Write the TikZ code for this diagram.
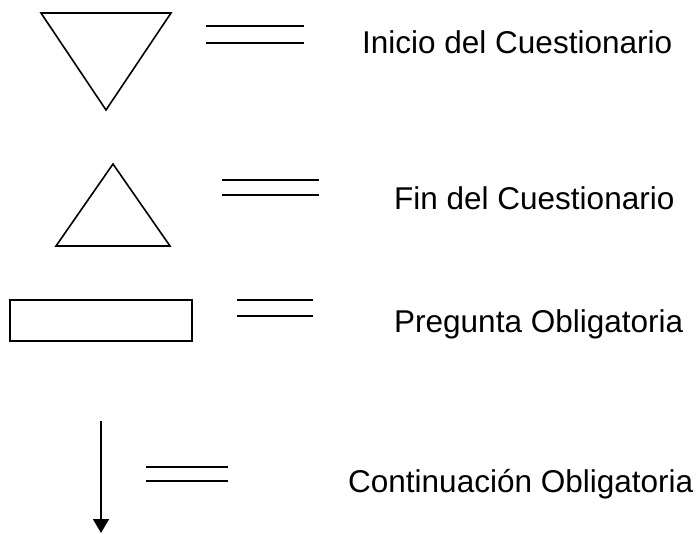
\documentclass[tikz,border=0pt]{standalone}
\usepackage{fontspec}
\setmainfont{Liberation Sans}
\usetikzlibrary{arrows.meta}
\begin{document}
\begin{tikzpicture}[x=1pt,y=-1pt,
  shapeline/.style={line width=1.6pt,line join=miter},
  eqline/.style={line width=1.6pt},
  legendtext/.style={anchor=base west,inner sep=0pt,font=\fontsize{31.5}{38}\selectfont}]
\useasboundingbox (0,0) rectangle (700,534);
% row 1: inverted triangle
\draw[shapeline] (41,13) -- (171,13) -- (106,110) -- cycle;
\draw[eqline] (206,26) -- (304,26);
\draw[eqline] (206,43) -- (304,43);
\node[legendtext] (t1) at (362,54) {Inicio del Cuestionario};
% row 2: triangle
\draw[shapeline] (113,164) -- (170,246) -- (56,246) -- cycle;
\draw[eqline] (222,180) -- (319,180);
\draw[eqline] (222,195) -- (319,195);
\node[legendtext] (t2) at (394,210) {Fin del Cuestionario};
% row 3: rectangle
\draw[shapeline] (10,300) rectangle (192,341);
\draw[eqline] (237,300) -- (313,300);
\draw[eqline] (237,316) -- (313,316);
\node[legendtext] (t3) at (394,332) {Pregunta Obligatoria};
% row 4: arrow
\coordinate (a1) at (101,421);
\coordinate (a2) at (101,533);
\draw[line width=1.6pt,-{Triangle[width=16pt,length=14pt]}] (a1) -- (a2);
\draw[eqline] (146,467) -- (228,467);
\draw[eqline] (146,481) -- (228,481);
\node[legendtext] (t4) at (348,492) {Continuación Obligatoria};
\end{tikzpicture}
\end{document}
